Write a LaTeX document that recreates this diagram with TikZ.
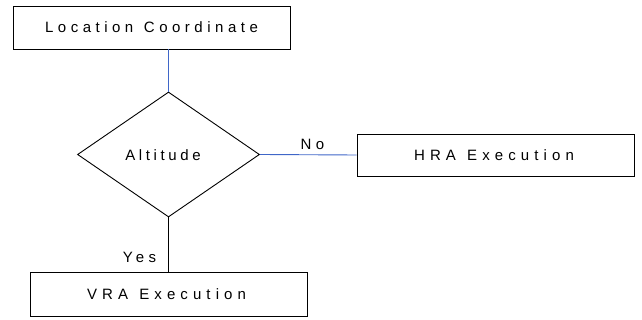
\documentclass[tikz,border=0pt]{standalone}
\usepackage{fontspec}
\setmainfont{Liberation Sans}
\usetikzlibrary{shapes.geometric}
\definecolor{linkblue}{HTML}{3F66C8}
\tikzset{
  box/.style={draw=black, line width=0.9pt, rectangle, inner sep=0pt, minimum width=277pt},
  dec/.style={draw=black, line width=0.9pt, diamond, inner sep=0pt, minimum width=182pt, minimum height=125pt},
  lbl/.style={inner sep=0pt, font=\fontsize{15}{17}\selectfont\addfontfeature{LetterSpace=30}},
  wire/.style={line width=0.9pt},
}
\begin{document}
\begin{tikzpicture}[x=1pt,y=-1pt]
\useasboundingbox (0,0) rectangle (642,320);
\node[box, minimum height=43pt] (loc) at (151.5,27.5) {};
\node[lbl] (loctxt) at (151.5,27.5) {Location\hspace{2pt} Coordinate};
\node[dec] (alt) at (168.5,154.5) {};
\node[lbl, font=\fontsize{15}{17}\selectfont\addfontfeature{LetterSpace=24}] (alttxt) at (163,155) {Altitude};
\node[box, minimum height=42pt] (hra) at (495.5,155) {};
\node[lbl, font=\fontsize{15}{17}\selectfont\addfontfeature{LetterSpace=34}] (hratxt) at (494,155) {HRA\hspace{2pt} Execution};
\node[box, minimum height=44pt] (vra) at (168.5,294) {};
\node[lbl, font=\fontsize{15}{17}\selectfont\addfontfeature{LetterSpace=34}] (vratxt) at (166.5,294) {VRA\hspace{2pt} Execution};
\node[lbl] (yes) at (139.5,257) {Yes};
\node[lbl] (no) at (312.5,144) {No};
\draw[wire, linkblue] (alt.north) -- (alt.north |- loc.south);
\draw[wire, linkblue] (alt.east) -- (hra.west);
\draw[wire, black] (alt.south) -- (alt.south |- vra.north);
\end{tikzpicture}
\end{document}
